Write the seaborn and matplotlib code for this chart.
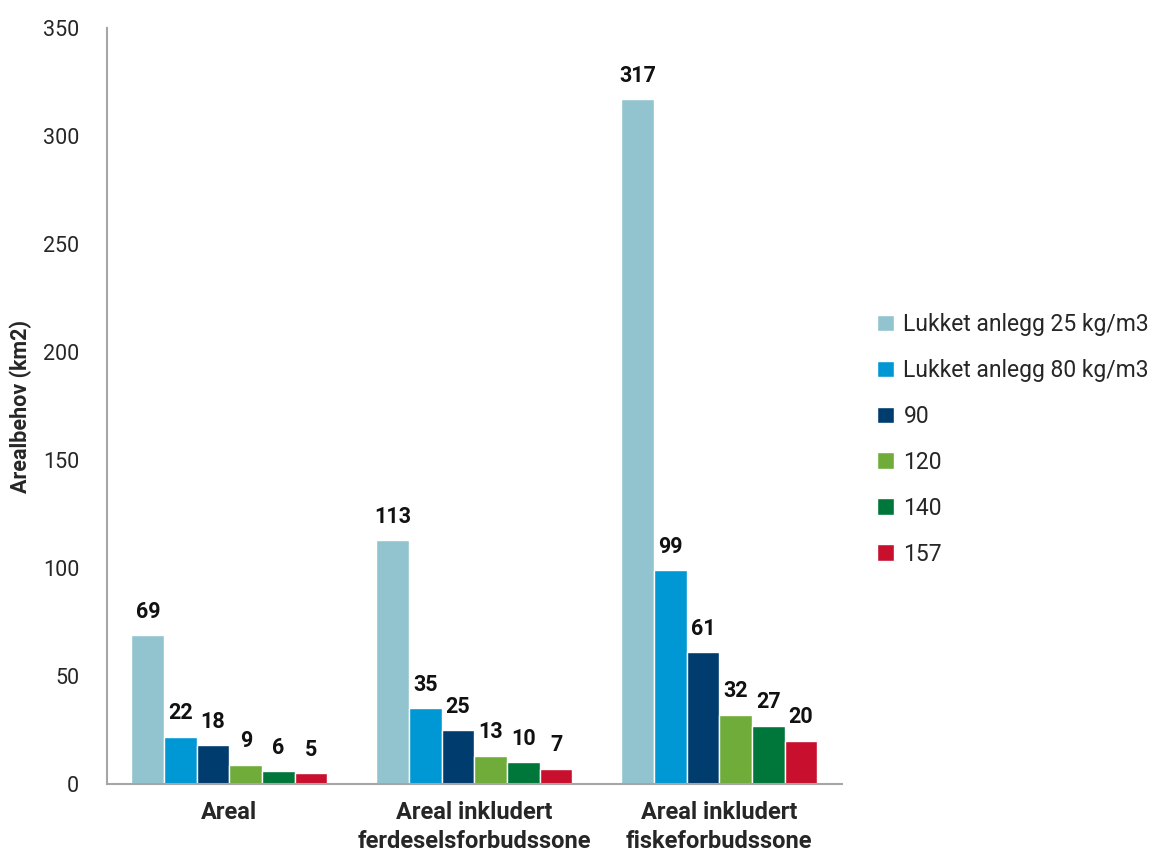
import matplotlib
matplotlib.use("Agg")
import matplotlib.pyplot as plt
import seaborn as sns
import pandas as pd

sns.set_style("white")
plt.rcParams['font.family'] = ['Roboto', 'DejaVu Sans']

categories = ["Areal", "Areal inkludert\nferdeselsforbudssone", "Areal inkludert\nfiskeforbudssone"]
series = ["Lukket anlegg 25 kg/m3", "Lukket anlegg 80 kg/m3", "90", "120", "140", "157"]
values = [
    [69, 113, 317],
    [22, 35, 99],
    [18, 25, 61],
    [9, 13, 32],
    [6, 10, 27],
    [5, 7, 20],
]
colors = ["#92C4CF", "#0098D4", "#003C6E", "#6FAC3A", "#00773A", "#C8102E"]

rows = []
for s, vals in zip(series, values):
    for c, v in zip(categories, vals):
        rows.append({"kategori": c, "serie": s, "verdi": v})
df = pd.DataFrame(rows)

fig = plt.figure(figsize=(11.5, 8.55), dpi=100)
ax = fig.add_axes([0.093, 0.083, 0.639, 0.884])
sns.barplot(data=df, x="kategori", y="verdi", hue="serie", order=categories,
            hue_order=series, palette=colors, saturation=1, width=0.8,
            errorbar=None, ax=ax)

for cont in ax.containers:
    ax.bar_label(cont, labels=[f"{int(b.get_height())}" for b in cont],
                 padding=9, fontsize=15.5, fontweight="bold", color="#111111")

ax.set_ylim(0, 350)
ax.set_xlim(-0.5, 2.5)
ax.set_yticks(range(0, 351, 50))
ax.set_xlabel("")
ax.set_ylabel("Arealbehov (km2)", fontsize=15.5, fontweight="bold")
ax.yaxis.set_label_coords(-0.102, 0.5)
ax.tick_params(axis="y", labelsize=15.5, length=0, pad=20)
ax.tick_params(axis="x", labelsize=17, length=0, pad=12)
for t in ax.get_xticklabels():
    t.set_fontweight("bold")
    t.set_linespacing(1.35)
for side in ["top", "right"]:
    ax.spines[side].set_visible(False)
for side in ["left", "bottom"]:
    ax.spines[side].set_color("#A6A6A6")
    ax.spines[side].set_linewidth(1.5)

ax.legend(title=None, frameon=False, fontsize=16.5, loc="center left",
          bbox_to_anchor=(1.02, 0.456), handlelength=0.75, handleheight=0.75,
          handletextpad=0.4, labelspacing=1.0)

fig.savefig("out.png", dpi=100)
